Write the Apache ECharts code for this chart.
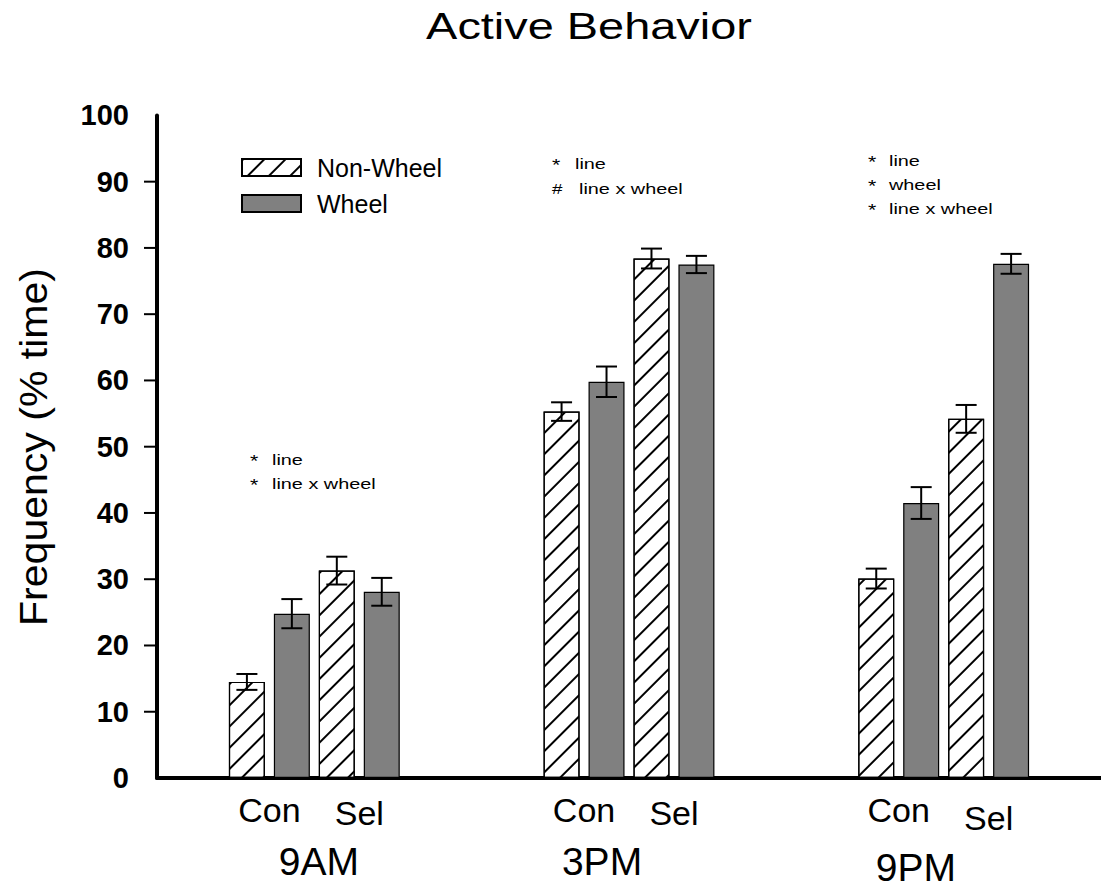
<!DOCTYPE html>
<html>
<head>
<meta charset="utf-8">
<script src="https://cdn.jsdelivr.net/npm/echarts@6/dist/echarts.min.js"></script>
<style>
  html, body { margin: 0; padding: 0; background: #fff; }
  #chart { width: 1101px; height: 890px; }
</style>
</head>
<body>
<div id="chart"></div>
<script>
// Time points and line groups
const times = ['9AM', '3PM', '9PM'];
const lineNames = ['Con', 'Sel'];
const yTicks = [0, 10, 20, 30, 40, 50, 60, 70, 80, 90, 100];

// Mean frequency (% time) per time point
const conNonWheel = [14.5, 55.3, 30.1];
const conWheel    = [24.8, 59.8, 41.5];
const selNonWheel = [31.3, 78.4, 54.2];
const selWheel    = [28.1, 77.5, 77.6];

// Standard errors per time point
const conNonWheelErr = [1.2, 1.4, 1.5];
const conWheelErr    = [2.2, 2.3, 2.4];
const selNonWheelErr = [2.1, 1.5, 2.1];
const selWheelErr    = [2.1, 1.3, 1.5];

// Significance notes per time point
const notes9AM = [['*', 'line'], ['*', 'line x wheel']];
const notes3PM = [['*', 'line'], ['#', 'line x wheel']];
const notes9PM = [['*', 'line'], ['*', 'wheel'], ['*', 'line x wheel']];

// ---- layout ----
const FONT = "'Liberation Sans', Arial, Helvetica, sans-serif";
const GROUP_STEP = 7;   // slots per time group (4 bars + 3 gap)
const FIRST = 2;        // first bar slot
const slot = (g, b) => FIRST + g * GROUP_STEP + b;

const nonWheelData = [], wheelData = [], errData = [];
times.forEach((t, g) => {
  nonWheelData.push([slot(g, 0), conNonWheel[g]], [slot(g, 2), selNonWheel[g]]);
  wheelData.push([slot(g, 1), conWheel[g]], [slot(g, 3), selWheel[g]]);
  errData.push([slot(g, 0), conNonWheel[g], conNonWheelErr[g]]);
  errData.push([slot(g, 1), conWheel[g], conWheelErr[g]]);
  errData.push([slot(g, 2), selNonWheel[g], selNonWheelErr[g]]);
  errData.push([slot(g, 3), selWheel[g], selWheelErr[g]]);
});

// category labels under the axis: line names between each bar pair, time below
const groupShift = [1.6, 0.9, 0.88];
const groupDy = [83, 83, 89];
const labelItems = [];
times.forEach((t, g) => {
  labelItems.push({ x: slot(g, 0) + 0.5, text: lineNames[0], dy: 32, size: 34 });
  labelItems.push({ x: slot(g, 2) + 0.5, text: lineNames[1], dy: g === 2 ? 40 : 35, size: 34 });
  labelItems.push({ x: slot(g, 0) + groupShift[g], text: t, dy: groupDy[g], size: 39 });
});

const hatch = {
  symbol: 'rect',
  symbolSize: 1,
  color: '#000',
  backgroundColor: '#fff',
  dashArrayX: [1, 0],
  dashArrayY: [1.1, 12.5],
  rotation: -Math.PI / 4
};

function noteBlock(list, x, y0, step, textGap) {
  const els = [];
  list.forEach((n, i) => {
    const y = y0 + i * step;
    const gap = n[0] === '#' ? textGap + 4 : textGap;
    els.push({ type: 'text', x: x, y: y + (n[0] === '*' ? 1 : 0), scaleX: 1.25,
      style: { text: n[0], font: (n[0] === '*' ? 17 : 15) + 'px ' + FONT, fill: '#000', verticalAlign: 'middle' } });
    els.push({ type: 'text', x: x + gap, y: y, scaleX: 1.28,
      style: { text: n[1], font: '15.5px ' + FONT, fill: '#000', verticalAlign: 'middle' } });
  });
  return els;
}

const chart = echarts.init(document.getElementById('chart'), null, { renderer: 'svg' });

chart.setOption({
  animation: false,
  backgroundColor: '#fff',
  grid: { left: 157, right: 0, top: 115.4, bottom: 112, containLabel: false },
  legend: {
    orient: 'vertical',
    left: 236, top: 149.5,
    itemWidth: 59, itemHeight: 17, itemGap: 10,
    icon: 'rect',
    selectedMode: false,
    data: ['Non-Wheel', 'Wheel'],
    textStyle: { fontFamily: FONT, fontSize: 25, color: '#000', lineHeight: 24, padding: [2, 0, 0, 11] }
  },
  xAxis: {
    type: 'value', min: 0, max: 21,
    axisLine: { show: true, onZero: false, lineStyle: { color: '#000', width: 4 } },
    axisTick: { show: false }, axisLabel: { show: false }, splitLine: { show: false }
  },
  yAxis: {
    type: 'value', min: yTicks[0], max: yTicks[yTicks.length - 1], interval: 10,
    axisLine: { show: true, lineStyle: { color: '#000', width: 4 } },
    axisTick: { show: false },
    axisLabel: { margin: 28, fontFamily: FONT, fontSize: 29, fontWeight: 'bold', color: '#000' },
    splitLine: { show: false }
  },
  series: [
    {
      name: 'Non-Wheel', type: 'bar', data: nonWheelData,
      barWidth: 36, barGap: '-100%',
      itemStyle: { color: '#fff', borderColor: '#000', borderWidth: 1.2, decal: hatch }
    },
    {
      name: 'Wheel', type: 'bar', data: wheelData,
      barWidth: 36, barGap: '-100%',
      itemStyle: { color: '#808080', borderColor: '#000', borderWidth: 1.2 }
    },
    {
      name: 'err', type: 'custom', data: errData, z: 10,
      encode: { x: 0, y: 1 },
      renderItem: function (params, api) {
        const x = api.value(0), m = api.value(1), e = api.value(2);
        const hi = api.coord([x, m + e]);
        const lo = api.coord([x, m - e]);
        const w = 10.5;
        const st = { stroke: '#000', lineWidth: 2 };
        return { type: 'group', children: [
          { type: 'line', shape: { x1: hi[0], y1: hi[1], x2: lo[0], y2: lo[1] }, style: st },
          { type: 'line', shape: { x1: hi[0] - w, y1: hi[1], x2: hi[0] + w, y2: hi[1] }, style: st },
          { type: 'line', shape: { x1: lo[0] - w, y1: lo[1], x2: lo[0] + w, y2: lo[1] }, style: st }
        ] };
      }
    },
    {
      // outward y-axis ticks on the inner values (none at 0 or 100)
      name: 'yticks', type: 'custom', silent: true, clip: false,
      data: yTicks.slice(1, -1).map(v => [0, v]),
      encode: { x: 0, y: 1 },
      renderItem: function (params, api) {
        const p = api.coord([0, api.value(1)]);
        return { type: 'line', shape: { x1: p[0] - 13, y1: p[1], x2: p[0], y2: p[1] },
          style: { stroke: '#000', lineWidth: 2 } };
      }
    },
    {
      name: 'labels', type: 'custom', silent: true,
      data: labelItems.map(d => [d.x, 0]),
      encode: { x: 0, y: 1 },
      clip: false,
      renderItem: function (params, api) {
        const d = labelItems[params.dataIndex];
        const p = api.coord([api.value(0), 0]);
        return { type: 'text', x: p[0], y: p[1] + d.dy,
          style: { text: d.text, font: d.size + 'px ' + FONT, fill: '#000', align: 'center', verticalAlign: 'middle' } };
      }
    }
  ],
  graphic: [
    { type: 'text', x: 589, y: 26, scaleX: 1.34, scaleY: 1.04,
      style: { text: 'Active Behavior', font: '35px ' + FONT, fill: '#000', align: 'center', verticalAlign: 'middle' } },
    { type: 'text', x: 34, y: 447, rotation: Math.PI / 2, scaleX: 1.08,
      style: { text: 'Frequency (% time)', font: '38px ' + FONT, fill: '#000', align: 'center', verticalAlign: 'middle' } }
  ].concat(
    noteBlock(notes9AM, 250, 460, 24, 22),
    noteBlock(notes3PM, 552, 164, 25, 23),
    noteBlock(notes9PM, 868, 161, 24, 21)
  )
});
</script>
</body>
</html>
